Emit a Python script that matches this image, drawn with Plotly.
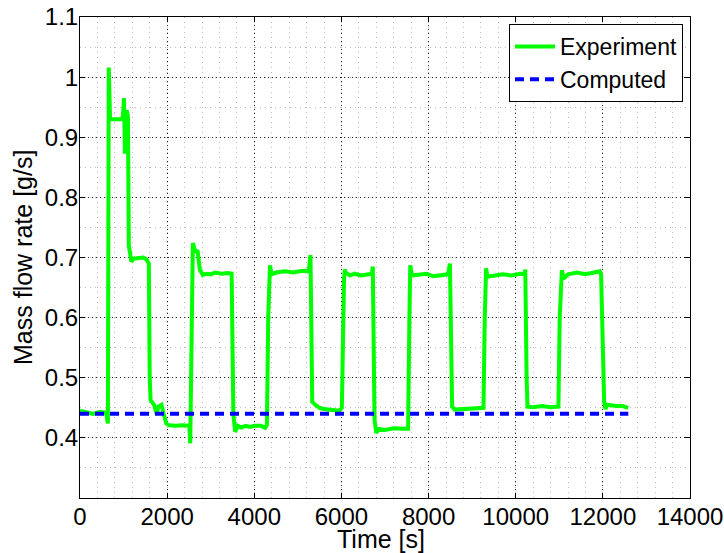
import plotly.graph_objects as go

# Experiment series (time [s], mass flow rate [g/s])
exp_t = [0, 150, 300, 450, 600, 640, 660, 690, 950, 985, 1010, 1030, 1050, 1070, 1100,
         1120, 1150, 1180, 1220, 1350, 1450, 1520, 1580, 1600, 1620, 1700, 1760, 1800,
         1870, 1920, 1980, 2050, 2200, 2350, 2480, 2510, 2530, 2560, 2590, 2650, 2700,
         2750, 2820, 2900, 3000, 3100, 3250, 3400, 3480, 3520, 3540, 3560, 3620, 3700,
         3800, 3900, 4000, 4150, 4250, 4290, 4320, 4340, 4360, 4400, 4500, 4700, 4900,
         5100, 5250, 5290, 5310, 5330, 5400, 5500, 5600, 5800, 5950, 6010, 6040, 6060,
         6080, 6100, 6200, 6300, 6450, 6600, 6700, 6720, 6740, 6760, 6800, 6850, 7000,
         7200, 7400, 7530, 7560, 7580, 7620, 7800, 7950, 8100, 8300, 8450, 8490, 8520,
         8540, 8600, 8800, 9000, 9200, 9260, 9290, 9320, 9350, 9500, 9700, 9900, 10100,
         10200, 10220, 10250, 10270, 10400, 10600, 10800, 10980, 11010, 11040, 11060,
         11100, 11200, 11400, 11600, 11800, 11930, 11960, 12000, 12030, 12060, 12100,
         12300, 12450, 12584]
exp_v = [0.445, 0.443, 0.440, 0.443, 0.442, 0.424, 1.016, 0.930, 0.930, 0.935, 0.965,
         0.876, 0.876, 0.945, 0.935, 0.720, 0.700, 0.693, 0.698, 0.700, 0.700, 0.697,
         0.690, 0.500, 0.463, 0.455, 0.440, 0.452, 0.455, 0.440, 0.424, 0.421, 0.420,
         0.421, 0.421, 0.420, 0.391, 0.600, 0.724, 0.710, 0.710, 0.680, 0.671, 0.673,
         0.672, 0.675, 0.673, 0.674, 0.673, 0.440, 0.419, 0.410, 0.420, 0.417, 0.420,
         0.418, 0.420, 0.420, 0.417, 0.422, 0.600, 0.655, 0.687, 0.672, 0.675, 0.677,
         0.675, 0.678, 0.677, 0.704, 0.550, 0.460, 0.455, 0.450, 0.448, 0.447, 0.445,
         0.450, 0.620, 0.665, 0.680, 0.675, 0.670, 0.673, 0.670, 0.672, 0.673, 0.685,
         0.500, 0.430, 0.408, 0.415, 0.413, 0.416, 0.415, 0.415, 0.600, 0.687, 0.670,
         0.671, 0.673, 0.669, 0.671, 0.672, 0.690, 0.500, 0.452, 0.447, 0.448, 0.449,
         0.450, 0.450, 0.600, 0.682, 0.668, 0.670, 0.672, 0.670, 0.673, 0.672, 0.680,
         0.500, 0.452, 0.451, 0.453, 0.451, 0.452, 0.600, 0.672, 0.679, 0.665, 0.672,
         0.675, 0.672, 0.675, 0.677, 0.672, 0.520, 0.460, 0.448, 0.455, 0.453, 0.453,
         0.450]

# Computed series
comp_t = [0, 12584]
comp_v = [0.44, 0.44]

x_ticks = [0, 2000, 4000, 6000, 8000, 10000, 12000, 14000]
y_ticks = [0.4, 0.5, 0.6, 0.7, 0.8, 0.9, 1.0, 1.1]
y_tick_text = ["0.4", "0.5", "0.6", "0.7", "0.8", "0.9", "1", "1.1"]
x_title = "Time [s]"
y_title = "Mass flow rate [g/s]"

FONT = "Liberation Sans, Arial, sans-serif"

fig = go.Figure()
fig.add_trace(go.Scatter(x=exp_t, y=exp_v, mode="lines", name="Experiment",
                         line=dict(color="#00FF00", width=4)))
fig.add_trace(go.Scatter(x=comp_t, y=comp_v, mode="lines", name="Computed",
                         line=dict(color="#0000FF", width=4, dash="9px,6px")))

fig.update_layout(
    width=724, height=553,
    margin=dict(l=80, r=34, t=17, b=55),
    paper_bgcolor="white", plot_bgcolor="white",
    font=dict(family=FONT, size=24, color="black"),
    showlegend=True,
    legend=dict(x=0.9885, y=0.9855, xanchor="right", yanchor="top",
                bgcolor="white", bordercolor="black", borderwidth=1,
                font=dict(size=23), tracegroupgap=0, itemwidth=40),
    annotations=[
        dict(text=x_title, xref="paper", yref="paper", x=0.494, y=-0.0852,
             xanchor="center", yanchor="middle", showarrow=False,
             font=dict(size=25)),
        dict(text=y_title, xref="paper", yref="paper", x=-0.0943, y=0.5,
             xanchor="center", yanchor="middle", showarrow=False,
             textangle=-90, font=dict(size=25)),
    ],
)
fig.update_xaxes(
    range=[0, 14000], tickvals=x_ticks, ticktext=[str(v) for v in x_ticks],
    showline=True, linecolor="black", linewidth=1, mirror="ticks",
    ticks="inside", ticklen=5, tickcolor="black", automargin=False,
    ticklabeloverflow="allow", ticklabelstandoff=-3,
    showgrid=True, gridcolor="#222222", gridwidth=1, griddash="1px,3px",
    minor=dict(dtick=400, tick0=0, showgrid=True, gridcolor="#bbbbbb",
               griddash="1px,4px", gridwidth=1, ticks=""),
    zeroline=False,
)
fig.update_yaxes(
    range=[0.3, 1.1], tickvals=y_ticks, ticktext=y_tick_text,
    showline=True, linecolor="black", linewidth=1, mirror="ticks",
    ticks="inside", ticklen=5, tickcolor="black", automargin=False,
    ticklabeloverflow="allow", ticklabelstandoff=-4,
    showgrid=True, gridcolor="#222222", gridwidth=1, griddash="1px,3px",
    minor=dict(dtick=0.05, tick0=0.3, showgrid=True, gridcolor="#bbbbbb",
               griddash="1px,4px", gridwidth=1, ticks=""),
    zeroline=False,
)

fig.write_html("out.html", config={"displayModeBar": False},
               post_script="document.body.style.margin='0';document.body.style.overflow='hidden';")
